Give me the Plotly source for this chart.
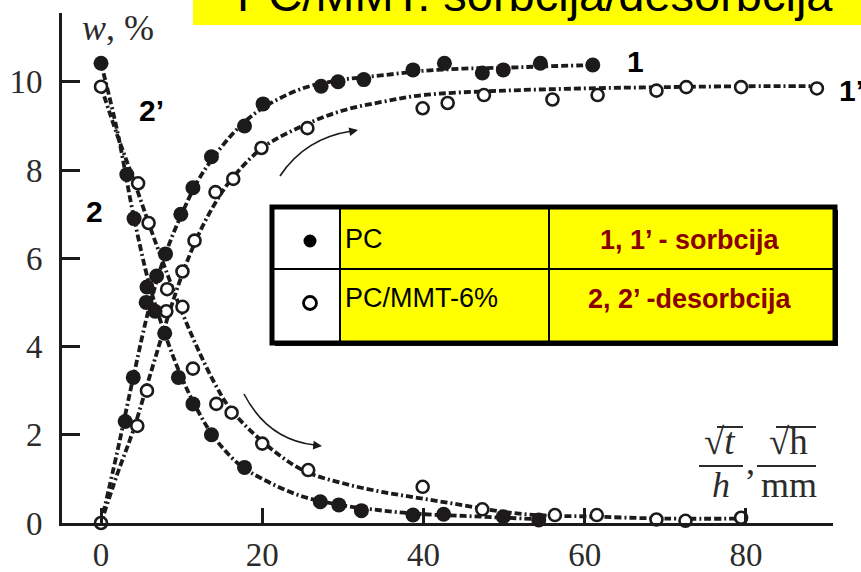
import plotly.graph_objects as go

# ---- measured points: w (%) vs sqrt(t)/h ----
# 1  : PC, sorption (filled)
x_pc_sorb = [3.0, 4.0, 5.6, 6.9, 8.0, 9.9, 11.4, 13.7, 17.8, 20.1, 27.3, 29.4, 32.6,
             38.7, 42.6, 47.3, 49.9, 54.5, 61.0]
w_pc_sorb = [2.3, 3.3, 5.0, 5.6, 6.1, 7.0, 7.6, 8.3, 9.0, 9.5, 9.9, 10.0, 10.05,
             10.27, 10.42, 10.2, 10.27, 10.42, 10.38]
# 2  : PC, desorption (filled)
x_pc_des = [0.0, 3.2, 4.1, 5.7, 6.7, 7.9, 9.6, 11.4, 13.7, 17.8, 27.2, 29.5, 32.3,
            38.7, 42.5, 49.9, 54.3]
w_pc_des = [10.42, 7.9, 6.9, 5.35, 4.8, 4.3, 3.3, 2.7, 2.0, 1.26, 0.48, 0.41, 0.28,
            0.18, 0.2, 0.14, 0.07]
# 1' : PC/MMT-6%, sorption (open)
x_mmt_sorb = [0.0, 4.5, 5.7, 8.1, 10.1, 11.6, 14.2, 16.4, 19.9, 25.6, 39.9, 43.0,
              47.5, 56.0, 61.6, 68.9, 72.6, 79.4, 88.8]
w_mmt_sorb = [0.0, 2.2, 3.0, 4.8, 5.7, 6.4, 7.5, 7.8, 8.5, 8.95, 9.4, 9.52,
              9.7, 9.6, 9.7, 9.8, 9.88, 9.88, 9.85]
# 2' : PC/MMT-6%, desorption (open)
x_mmt_des = [0.0, 4.6, 5.9, 8.2, 10.1, 11.4, 14.3, 16.2, 20.0, 25.7, 39.9, 47.3,
             56.3, 61.5, 68.9, 72.5, 79.4]
w_mmt_des = [9.89, 7.7, 6.8, 5.3, 4.9, 3.5, 2.7, 2.5, 1.8, 1.2, 0.82, 0.31,
             0.18, 0.18, 0.08, 0.05, 0.12]

# ---- smoothed kinetic curves (dashed) ----
xc_1 = [0, 2, 4, 6, 8, 10, 12, 14, 17, 20, 25, 30, 35, 40, 45, 50, 55, 61]
wc_1 = [0, 1.6, 3.3, 4.9, 6.1, 7.0, 7.75, 8.3, 8.95, 9.4, 9.85, 10.05, 10.15,
        10.25, 10.3, 10.32, 10.35, 10.38]
xc_2 = [0, 2, 4, 6, 8, 10, 12, 14, 17, 20, 25, 30, 35, 40, 45, 50, 55]
wc_2 = [10.42, 8.9, 7.0, 5.4, 4.25, 3.3, 2.55, 1.95, 1.35, 1.0, 0.6, 0.4, 0.28,
        0.2, 0.16, 0.12, 0.08]
xc_1p = [0, 2, 4, 6, 8, 10, 12, 14, 16, 20, 25, 30, 35, 40, 50, 60, 70, 80, 89]
wc_1p = [0, 1.1, 2.1, 3.3, 4.5, 5.6, 6.5, 7.2, 7.75, 8.5, 9.0, 9.35, 9.55, 9.7,
         9.8, 9.85, 9.88, 9.9, 9.9]
xc_2p = [0, 2, 4, 6, 8, 10, 12, 14, 16, 20, 25, 30, 35, 40, 45, 50, 55, 60, 70, 80]
wc_2p = [9.89, 8.8, 7.8, 6.75, 5.75, 4.8, 3.95, 3.2, 2.6, 1.85, 1.2, 0.9, 0.7,
         0.55, 0.4, 0.25, 0.17, 0.15, 0.1, 0.1]

x_ticks = [0, 20, 40, 60, 80]
y_ticks = [0, 2, 4, 6, 8, 10]

TITLE = "PC/MMT: sorbcija/desorbcija"
TABLE_ROWS = [("PC", "1, 1’ - sorbcija"), ("PC/MMT-6%", "2, 2’ -desorbcija")]

# ---- page geometry ----
W, H = 861, 572
ML, MR, MT, MB = 62, 28, 13, 49
PW, PH = W - ML - MR, H - MT - MB


def px(x):
    return (x - ML) / PW


def py(y):
    return (H - MB - y) / PH


INK = "#1c1a1a"
DASH = "7px,3px,7px,3px,2px,3px"

fig = go.Figure()

for xs, ys in [(xc_1, wc_1), (xc_2, wc_2), (xc_1p, wc_1p), (xc_2p, wc_2p)]:
    fig.add_trace(go.Scatter(
        x=xs, y=ys, mode="lines", line=dict(color=INK, width=3.8, dash=DASH, shape="spline"),
        hoverinfo="skip", cliponaxis=False, showlegend=False))

for xs, ys in [(x_mmt_sorb, w_mmt_sorb), (x_mmt_des, w_mmt_des)]:
    fig.add_trace(go.Scatter(
        x=xs, y=ys, mode="markers", cliponaxis=False, showlegend=False,
        marker=dict(size=12, color="white", line=dict(color=INK, width=2.6))))

for xs, ys in [(x_pc_sorb, w_pc_sorb), (x_pc_des, w_pc_des)]:
    fig.add_trace(go.Scatter(
        x=xs, y=ys, mode="markers", cliponaxis=False, showlegend=False,
        marker=dict(size=15, color=INK, line=dict(width=0))))

shapes = []
annotations = []

# title banner
shapes.append(dict(type="rect", xref="paper", yref="paper", x0=px(193), x1=px(880),
                   y0=py(25), y1=py(-30), fillcolor="#ffff00", line=dict(width=0),
                   layer="above"))
annotations.append(dict(xref="paper", yref="paper", x=px(535), y=py(-5), text=TITLE,
                        showarrow=False, xanchor="center", yanchor="middle",
                        font=dict(family="Liberation Sans", size=47, color="black")))

# axis captions
serif = "Liberation Serif"
annotations.append(dict(xref="paper", yref="paper", x=px(80), y=py(28), xanchor="left",
                        yanchor="middle", showarrow=False, text="<i>w</i>, %",
                        font=dict(family=serif, size=36, color="#2b2b2b")))
annotations.append(dict(xref="paper", yref="paper", x=px(720), y=py(441), xanchor="center",
                        yanchor="middle", showarrow=False, text="√<i>t</i>",
                        font=dict(family=serif, size=37, color="#2b2b2b")))
annotations.append(dict(xref="paper", yref="paper", x=px(721), y=py(485), xanchor="center",
                        yanchor="middle", showarrow=False, text="<i>h</i>",
                        font=dict(family=serif, size=36, color="#2b2b2b")))
annotations.append(dict(xref="paper", yref="paper", x=px(750), y=py(462), xanchor="center",
                        yanchor="middle", showarrow=False, text=",",
                        font=dict(family=serif, size=36, color="#2b2b2b")))
annotations.append(dict(xref="paper", yref="paper", x=px(788), y=py(441), xanchor="center",
                        yanchor="middle", showarrow=False, text="√h",
                        font=dict(family=serif, size=37, color="#2b2b2b")))
annotations.append(dict(xref="paper", yref="paper", x=px(789), y=py(485), xanchor="center",
                        yanchor="middle", showarrow=False, text="mm",
                        font=dict(family=serif, size=36, color="#2b2b2b")))
for x0, x1, yv in [(699, 743, 466), (757, 816, 466), (717, 743, 427), (776, 816, 427)]:
    shapes.append(dict(type="line", xref="paper", yref="paper", x0=px(x0), x1=px(x1),
                       y0=py(yv), y1=py(yv), line=dict(color="#2b2b2b", width=2)))

# curve numbers
bold = dict(family="Liberation Sans", size=30, color="black")
for label, xp, yp in [("1", 635, 62), ("1’", 852, 90), ("2’", 151, 111), ("2", 94, 212)]:
    annotations.append(dict(xref="paper", yref="paper", x=px(xp), y=py(yp), text=f"<b>{label}</b>",
                            showarrow=False, xanchor="center", yanchor="middle", font=bold))

# curved arrows
shapes.append(dict(type="path", xref="paper", yref="paper",
                   path=f"M {px(280)},{py(176)} Q {px(305)},{py(138)} {px(352)},{py(131)}",
                   line=dict(color=INK, width=1.6)))
shapes.append(dict(type="path", xref="paper", yref="paper",
                   path=f"M {px(244)},{py(394)} Q {px(268)},{py(440)} {px(315)},{py(445)}",
                   line=dict(color=INK, width=1.6)))
for hx, hy, ax, ay in [(358, 130, -10, 2), (322, 446, -10, -1)]:
    annotations.append(dict(xref="paper", yref="paper", x=px(hx), y=py(hy), ax=ax, ay=ay,
                            axref="pixel", ayref="pixel", text="", showarrow=True,
                            arrowhead=2, arrowsize=1.1, arrowwidth=1.6, arrowcolor=INK))

# table legend
TL, TR, TT, TB = 272, 835, 207, 343
C1, C2, RM = 340, 549, 269
shapes.append(dict(type="rect", xref="paper", yref="paper", x0=px(TL + 3), x1=px(TR + 3),
                   y0=py(TB + 3), y1=py(TT + 3), fillcolor="#111", line=dict(width=0)))
shapes.append(dict(type="rect", xref="paper", yref="paper", x0=px(TL), x1=px(C1),
                   y0=py(TB), y1=py(TT), fillcolor="white", line=dict(width=0)))
shapes.append(dict(type="rect", xref="paper", yref="paper", x0=px(C1), x1=px(TR),
                   y0=py(TB), y1=py(TT), fillcolor="#ffff00", line=dict(width=0)))
for xv in (C1, C2):
    shapes.append(dict(type="line", xref="paper", yref="paper", x0=px(xv), x1=px(xv),
                       y0=py(TB), y1=py(TT), line=dict(color="black", width=2)))
shapes.append(dict(type="line", xref="paper", yref="paper", x0=px(TL), x1=px(TR),
                   y0=py(RM), y1=py(RM), line=dict(color="black", width=2)))
shapes.append(dict(type="rect", xref="paper", yref="paper", x0=px(TL), x1=px(TR),
                   y0=py(TB), y1=py(TT), line=dict(color="black", width=5)))
for i, (yp, filled) in enumerate([(241, True), (303, False)]):
    shapes.append(dict(type="circle", xref="paper", yref="paper", xsizemode="pixel",
                       ysizemode="pixel", xanchor=px(310), yanchor=py(yp),
                       x0=-6.5, x1=6.5, y0=-6.5, y1=6.5,
                       fillcolor="black" if filled else "white",
                       line=dict(color="black", width=0 if filled else 2.8)))
for (name, desc), yp in zip(TABLE_ROWS, (239, 298)):
    annotations.append(dict(xref="paper", yref="paper", x=px(343), y=py(yp), text=name,
                            showarrow=False, xanchor="left", yanchor="middle",
                            font=dict(family="Liberation Sans", size=27, color="black")))
    annotations.append(dict(xref="paper", yref="paper", x=px(690), y=py(yp + 1),
                            text=f"<b>{desc}</b>", showarrow=False, xanchor="center",
                            yanchor="middle",
                            font=dict(family="Liberation Sans", size=27, color="#8b0000")))

axis_common = dict(showline=True, linewidth=3, linecolor=INK, ticks="inside", tickwidth=3,
                   tickcolor=INK, showgrid=False, zeroline=False,
                   tickfont=dict(family=serif, size=33, color="#2b2b2b"))

fig.update_layout(
    width=W, height=H, margin=dict(l=ML, r=MR, t=MT, b=MB, autoexpand=False),
    paper_bgcolor="white", plot_bgcolor="white",
    xaxis=dict(range=[-4.84, 90.8], tickvals=x_ticks, ticklen=15, ticklabelstandoff=0,
               **axis_common),
    yaxis=dict(range=[0, 11.56], tickvals=y_ticks, ticklen=18, ticklabelstandoff=10,
               **axis_common),
    shapes=shapes, annotations=annotations, showlegend=False,
)

fig.write_html("out.html")
